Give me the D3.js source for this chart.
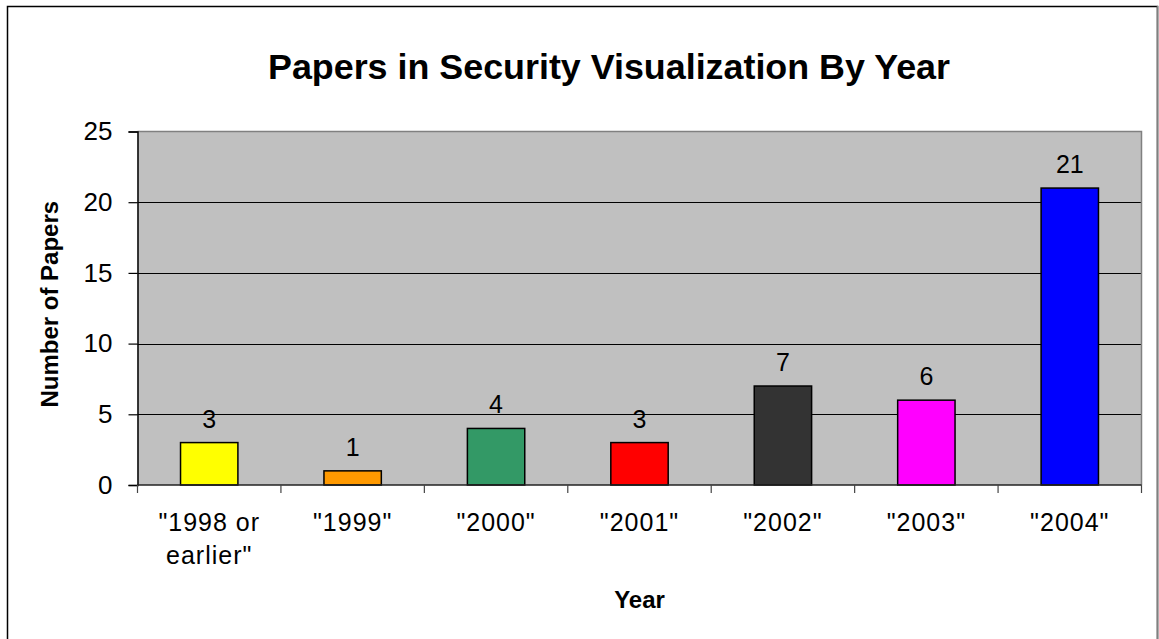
<!DOCTYPE html>
<html>
<head>
<meta charset="utf-8">
<script src="https://cdn.jsdelivr.net/npm/d3@7"></script>
<style>
  html, body { margin: 0; padding: 0; background: #fff; }
  svg { display: block; font-family: "Liberation Sans", Arial, sans-serif; }
</style>
</head>
<body>
<svg id="chart" width="1159" height="639"></svg>
<script>
// Papers per year
const categories = [["\"1998 or", "earlier\""], ["\"1999\""], ["\"2000\""], ["\"2001\""], ["\"2002\""], ["\"2003\""], ["\"2004\""]];
const papers = [3, 1, 4, 3, 7, 6, 21];
const barColors = ["#FFFF00", "#FF9900", "#339966", "#FF0000", "#333333", "#FF00FF", "#0000FF"];
const yTicks = [0, 5, 10, 15, 20, 25];

const svg = d3.select("#chart");
const W = 1159, H = 639;
const plot = { left: 137.5, right: 1141.5, top: 131.5, bottom: 485 };

// outer frame
svg.append("rect").attr("x", 7.5).attr("y", 6.5).attr("width", 1150).attr("height", 700)
  .attr("fill", "#fff").attr("stroke", "#000").attr("stroke-width", 1.5);
svg.append("line").attr("x1", 1157.5).attr("x2", 1157.5).attr("y1", 6).attr("y2", H)
  .attr("stroke", "#808080").attr("stroke-width", 1.5);

const idx = d3.range(categories.length);
const x = d3.scaleBand().domain(idx).range([plot.left, plot.right]).paddingInner(0.6).paddingOuter(0.3);
const xb = d3.scaleBand().domain(idx).range([plot.left, plot.right]);
const y = d3.scaleLinear().domain([0, 25]).range([plot.bottom, plot.top]);

// plot background
svg.append("rect").attr("x", plot.left).attr("y", plot.top)
  .attr("width", plot.right - plot.left).attr("height", plot.bottom - plot.top)
  .attr("fill", "#C0C0C0");

// gridlines
svg.append("g").selectAll("line").data(yTicks.filter(t => t > 0 && t < 25)).join("line")
  .attr("x1", plot.left).attr("x2", plot.right)
  .attr("y1", d => Math.round(y(d)) + 0.5).attr("y2", d => Math.round(y(d)) + 0.5)
  .attr("stroke", "#000").attr("stroke-width", 1);

// plot border (top and right)
svg.append("path")
  .attr("d", `M${plot.left},${plot.top}H${plot.right}V${plot.bottom}`)
  .attr("fill", "none").attr("stroke", "#808080").attr("stroke-width", 1.5);

// bars
svg.append("g").selectAll("rect").data(papers).join("rect")
  .attr("x", (d, i) => x(i)).attr("width", x.bandwidth())
  .attr("y", d => y(d)).attr("height", d => y(0) - y(d))
  .attr("fill", (d, i) => barColors[i]).attr("stroke", "#000").attr("stroke-width", 1.5);

// value labels
svg.append("g").selectAll("text").data(papers).join("text")
  .attr("x", (d, i) => x(i) + x.bandwidth() / 2).attr("y", d => y(d) - 15)
  .attr("text-anchor", "middle").attr("font-size", 25).attr("fill", "#000")
  .text(d => d);

// y axis
const yAxis = svg.append("g").attr("transform", `translate(${plot.left},0)`)
  .call(d3.axisLeft(y).tickValues(yTicks).tickSize(9).tickPadding(16));
yAxis.select(".domain").attr("stroke", "#000").attr("stroke-width", 1.5);
yAxis.selectAll(".tick line").attr("stroke", "#000").attr("stroke-width", 1.2);
yAxis.selectAll(".tick text").attr("font-size", 26).attr("fill", "#000")
  .attr("font-family", "Liberation Sans, Arial, sans-serif");

// x axis
const xAxis = svg.append("g").attr("transform", `translate(0,${plot.bottom})`);
xAxis.append("line").attr("x1", plot.left).attr("x2", plot.right).attr("y1", 0).attr("y2", 0)
  .attr("stroke", "#222").attr("stroke-width", 1.5);
const bounds = idx.map(i => xb(i)).concat([plot.right]);
xAxis.selectAll("line.tk").data(bounds).join("line").attr("class", "tk")
  .attr("x1", d => d).attr("x2", d => d).attr("y1", 0).attr("y2", 8)
  .attr("stroke", "#444").attr("stroke-width", 1.2);
const xl = xAxis.selectAll("text").data(categories).join("text")
  .attr("text-anchor", "middle").attr("font-size", 25).attr("fill", "#000")
  .attr("letter-spacing", 1)
  .attr("transform", (d, i) => `translate(${xb(i) + xb.bandwidth() / 2},0)`);
xl.selectAll("tspan").data(d => d).join("tspan")
  .attr("x", 0).attr("y", (d, j) => 46 + j * 33).text(d => d);

// titles
svg.append("text").attr("x", 609).attr("y", 79).attr("text-anchor", "middle")
  .attr("font-size", 35).attr("font-weight", "bold").attr("fill", "#000")
  .attr("textLength", 682).attr("lengthAdjust", "spacingAndGlyphs")
  .text("Papers in Security Visualization By Year");
svg.append("text").attr("x", (plot.left + plot.right) / 2).attr("y", 608).attr("text-anchor", "middle")
  .attr("font-size", 24).attr("font-weight", "bold").attr("fill", "#000")
  .text("Year");
svg.append("text").attr("transform", `translate(58,${(plot.top + plot.bottom) / 2 - 4}) rotate(-90)`)
  .attr("text-anchor", "middle")
  .attr("font-size", 24).attr("font-weight", "bold").attr("fill", "#000")
  .text("Number of Papers");
</script>
</body>
</html>
